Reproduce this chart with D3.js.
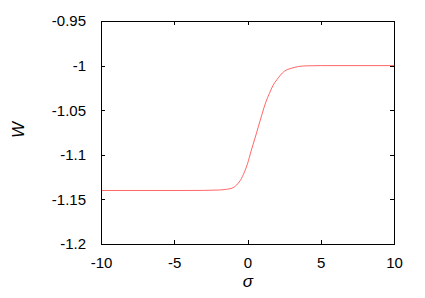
<!DOCTYPE html>
<html>
<head>
<meta charset="utf-8">
<script src="https://cdn.jsdelivr.net/npm/d3@7"></script>
<style>
  body { margin: 0; background: #fff; }
  text { font-family: "Liberation Sans", Arial, sans-serif; fill: #000; }
</style>
</head>
<body>
<svg id="chart" width="425" height="298"></svg>
<script>
(function () {
  'use strict';

  // values
  var sigma = [-10, -4, -3, -2, -1.5, -1, -0.75, -0.5, -0.2, 0, 0.25, 0.5, 0.75, 1, 1.25, 1.5, 1.75, 2, 2.5, 3, 3.5, 4, 5, 10];
  var W = [-1.14, -1.14, -1.1399, -1.1395, -1.1388, -1.1370, -1.1340, -1.1290, -1.119, -1.110, -1.0955, -1.082, -1.068, -1.054, -1.041, -1.031, -1.022, -1.016, -1.0065, -1.003, -1.001, -1.0003, -1.0, -1.0];
  var xTicks = [-10, -5, 0, 5, 10];
  var yTicks = [-0.95, -1, -1.05, -1.1, -1.15, -1.2];

  var left = 101, right = 394, top = 21, bottom = 244;
  var svg = d3.select('#chart');

  var x = d3.scaleLinear().domain([-10, 10]).range([left, right]);
  var y = d3.scaleLinear().domain([-1.2, -0.95]).range([bottom, top]);
  var fmt = function (d) { return String(d); };

  // tick labels
  svg.append('g')
    .attr('transform', 'translate(0,' + bottom + ')')
    .call(d3.axisBottom(x).tickValues(xTicks).tickFormat(fmt).tickSize(0).tickPadding(13))
    .call(function (g) { g.select('.domain').remove(); })
    .selectAll('text').style('font-size', '15px').style('font-family', null);

  svg.append('g')
    .attr('transform', 'translate(' + left + ',0)')
    .call(d3.axisLeft(y).tickValues(yTicks).tickFormat(fmt).tickSize(0).tickPadding(15))
    .call(function (g) { g.select('.domain').remove(); })
    .selectAll('text').style('font-size', '15px').style('font-family', null);

  // inward ticks on all four sides
  var tk = 4;
  var ticks = svg.append('g').attr('stroke', '#000').attr('stroke-width', 1);
  xTicks.forEach(function (d) {
    var px = Math.round(x(d)) + 0.5;
    ticks.append('line').attr('x1', px).attr('x2', px).attr('y1', bottom).attr('y2', bottom - tk);
    ticks.append('line').attr('x1', px).attr('x2', px).attr('y1', top).attr('y2', top + tk);
  });
  yTicks.forEach(function (d) {
    var py = Math.round(y(d)) + 0.5;
    ticks.append('line').attr('x1', left).attr('x2', left + tk).attr('y1', py).attr('y2', py);
    ticks.append('line').attr('x1', right).attr('x2', right - tk).attr('y1', py).attr('y2', py);
  });

  // the curve
  var line = d3.line()
    .x(function (d, i) { return x(sigma[i]); })
    .y(function (d) { return y(d); })
    .curve(d3.curveMonotoneX);
  svg.append('path')
    .datum(W)
    .attr('fill', 'none')
    .attr('stroke', '#ff4040')
    .attr('stroke-width', 0.8)
    .attr('d', line);

  // frame
  svg.append('rect')
    .attr('x', left + 0.5).attr('y', top + 0.5)
    .attr('width', right - left).attr('height', bottom - top)
    .attr('fill', 'none').attr('stroke', '#000').attr('stroke-width', 1);

  // axis titles
  svg.append('text')
    .attr('x', 248).attr('y', 287)
    .attr('text-anchor', 'middle')
    .style('font-size', '17px')
    .style('font-style', 'italic')
    .text('σ');

  svg.append('text')
    .attr('transform', 'translate(24,130) rotate(-90)')
    .attr('text-anchor', 'middle')
    .style('font-size', '17px')
    .style('font-style', 'italic')
    .text('W');
})();
</script>
</body>
</html>
